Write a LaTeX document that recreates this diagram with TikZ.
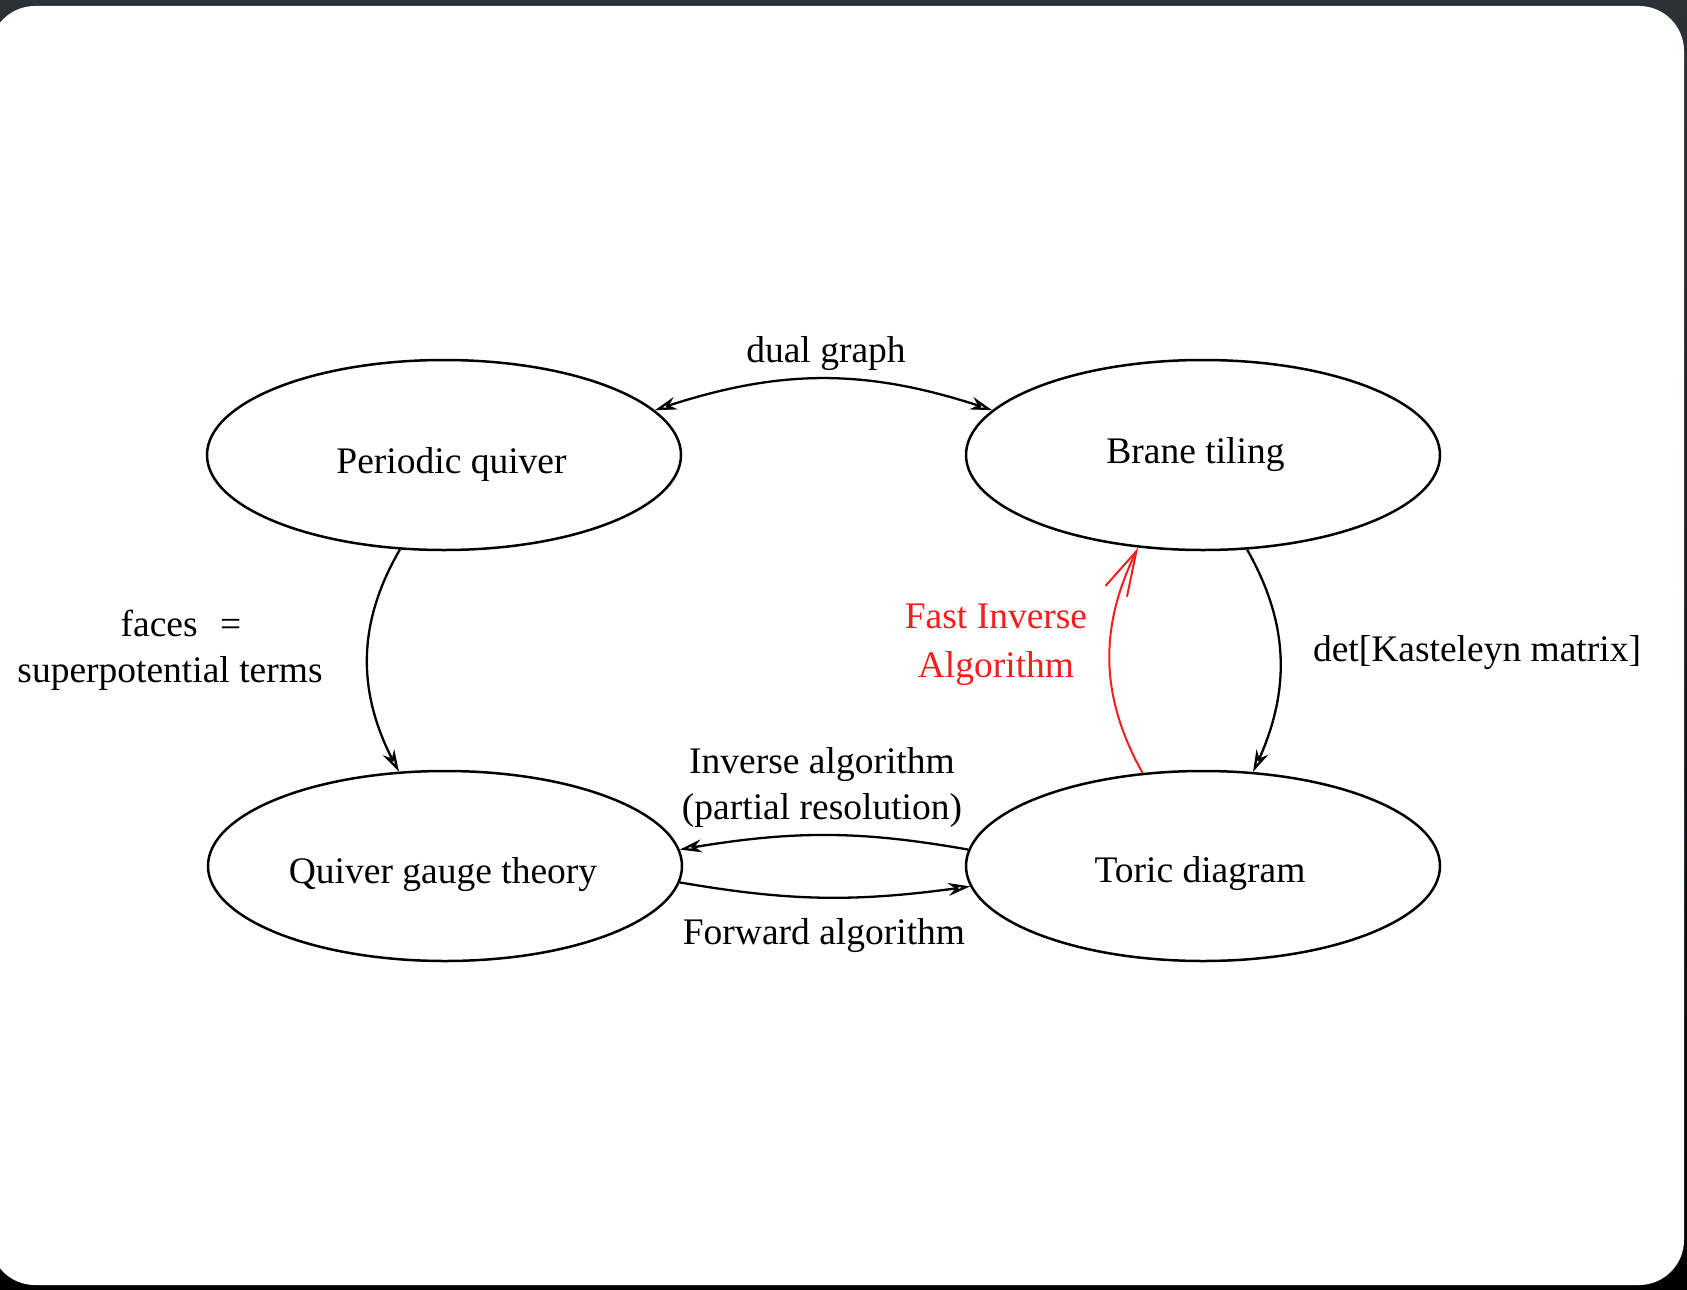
\documentclass[tikz,border=0pt]{standalone}
\usepackage{fontspec}
\setmainfont{Liberation Serif}
\usetikzlibrary{shapes.geometric,arrows.meta,bending}
\definecolor{frametop}{RGB}{42,50,56}
\definecolor{fastred}{RGB}{245,30,30}
% set a node text off-centre: #1 doubled horizontal shift, #2 downward shift
\newcommand{\offtext}[3]{\hspace*{#1}\raisebox{-#2}[\height][\depth]{#3}}
\begin{document}
\begin{tikzpicture}[x=1pt,y=-1pt,
  font=\fontsize{37.5pt}{46pt}\selectfont,
  state/.style={ellipse,draw,line width=2.5pt,minimum width=474pt,minimum height=190pt,inner sep=0pt},
  lbl/.style={align=center,inner sep=0pt},
  conn/.style={line width=2.3pt,-{Stealth[open,length=22pt,width=13pt]}},
  both/.style={line width=2.3pt,{Stealth[open,length=22pt,width=13pt]}-{Stealth[open,length=22pt,width=13pt]}},
  fast/.style={line width=2pt,draw=fastred,-{Straight Barb[length=45pt,width=24pt,flex]}}
]
\useasboundingbox (0,0) rectangle (1687,1290);
% window frame
\shade[top color=frametop,bottom color=black] (0,0) rectangle (1687,1290);
\fill[white,rounded corners=45pt] (-10,6) rectangle (1684,1285);

% the four objects
\node[state] (pq) at (444,455) {\offtext{15pt}{9pt}{Periodic quiver}};
\node[state] (bt) at (1203,455) {Brane tiling\hspace*{15pt}};
\node[state] (qg) at (445,866) {\offtext{0pt}{9pt}{Quiver gauge theory}\hspace*{4pt}};
\node[state] (td) at (1203,866) {\offtext{0pt}{8pt}{Toric diagram}\hspace*{6pt}};

% maps between them
\draw[both] (bt.168) to[bend right=19] (pq.12);
\draw[conn] (pq.245) to[bend right=30] (qg.116);
\draw[conn] (bt.295) to[bend left=28] (td.62);
\draw[fast] (td.123) to[bend left=28] (bt.235);
\draw[conn] (td.176) to[bend right=10] (qg.4);
\draw[conn] (qg.-4) to[bend right=9] (td.185);

% labels
\node[lbl] (ldual) at (826,354) {dual graph};
\node[lbl] (lfaces) at (170,650) {\hspace*{22pt}faces\hspace{0.6em}=\\superpotential terms};
\node[lbl] (ldet) at (1477,653) {det[Kasteleyn matrix]};
\node[lbl,text=fastred,font=\fontsize{37.5pt}{49pt}\selectfont] (lfast) at (996,645) {Fast Inverse\\Algorithm};
\node[lbl] (linv) at (822,787) {Inverse algorithm\\(partial resolution)};
\node[lbl] (lfwd) at (824,936) {Forward algorithm};
\end{tikzpicture}
\end{document}
